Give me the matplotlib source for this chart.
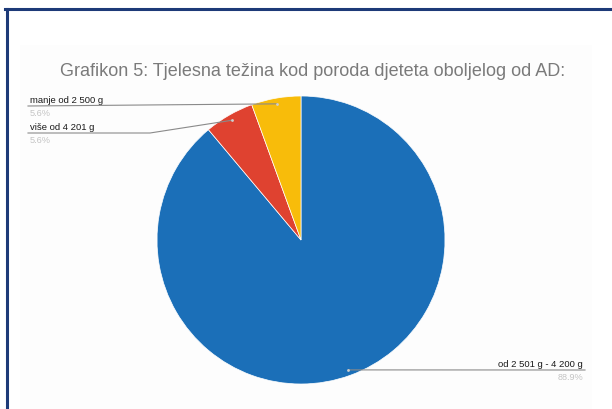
import numpy as np
import matplotlib
matplotlib.use("Agg")
import matplotlib.pyplot as plt
from matplotlib.lines import Line2D
from matplotlib.patches import Rectangle

plt.rcParams['font.family'] = ['Liberation Sans', 'DejaVu Sans']

title = "Grafikon 5: Tjelesna težina kod poroda djeteta oboljelog od AD:"
categories = ["od 2 501 g - 4 200 g", "više od 4 201 g", "manje od 2 500 g"]
counts = [16, 1, 1]
percent_labels = ["88.9%", "5.6%", "5.6%"]
colors = ["#1b6fb8", "#df4230", "#f8bc0a"]

W, H = 612, 410
fig = plt.figure(figsize=(W / 100, H / 100), dpi=100)
fig.patch.set_facecolor("white")

def fx(px):
    return px / W

def fy(py):
    return 1 - py / H

# faint chart panel and the dark frame lines
fig.add_artist(Rectangle((fx(20), 0), fx(572), (H - 46) / H,
                         transform=fig.transFigure, facecolor="#fdfdfd",
                         edgecolor="none", zorder=0))
fig.add_artist(Line2D([fx(5), 1], [fy(10), fy(10)], transform=fig.transFigure,
                      color="#1d3a78", lw=2.2, zorder=5))
fig.add_artist(Line2D([fx(7), fx(7)], [fy(10), 0], transform=fig.transFigure,
                      color="#1d3a78", lw=2.2, zorder=5))

fig.text(fx(60), fy(72), title, ha="left", va="center", fontsize=13.0,
         color="#7a7a7a")

# pie: centre (301, 241) px, radius 144 px
cx, cy, r = 301, 241, 144
ax = fig.add_axes([fx(cx - r), fy(cy + r), 2 * r / W, 2 * r / H])
ax.axis("off")
wedges, _ = ax.pie(counts, colors=colors, startangle=90, counterclock=False,
                   radius=1, center=(0, 0), frame=False,
                   wedgeprops=dict(linewidth=0.5, edgecolor="white"))
ax.set_xlim(-1, 1)
ax.set_ylim(-1, 1)

def anchor_px(w, rr=0.96):
    ang = np.deg2rad((w.theta1 + w.theta2) / 2)
    pt = ax.transData.transform((rr * np.cos(ang), rr * np.sin(ang)))
    return pt[0], H - pt[1]

fig.canvas.draw()

# leader lines and labels
layout = {
    0: dict(x0=585, ly=371, ha="right"),
    1: dict(x0=28, ly=134, ha="left", elbow=150),
    2: dict(x0=28, ly=107, ha="left"),
}
for i, w in enumerate(wedges):
    axp, ayp = anchor_px(w)
    L = layout[i]
    if "elbow" in L:
        xs = [axp, L["elbow"], L["x0"]]
        ys = [ayp, L["ly"], L["ly"]]
    else:
        xs = [axp, L["x0"]]
        ys = [ayp, L["ly"]]
    fig.add_artist(Line2D([fx(v) for v in xs], [fy(v) for v in ys],
                          transform=fig.transFigure, color="#8a8a8a", lw=0.8,
                          zorder=4))
    fig.add_artist(Line2D([fx(axp)], [fy(ayp)], transform=fig.transFigure,
                          marker="o", ms=2, color="#cfcfcf", mec="none",
                          zorder=4))
    tx = L["x0"] + (2 if L["ha"] == "left" else -2)
    fig.text(fx(tx), fy(L["ly"] - 2), categories[i], ha=L["ha"], va="bottom",
             fontsize=6.8, color="#1a1a1a", fontweight="medium")
    fig.text(fx(tx), fy(L["ly"] + 2), percent_labels[i], ha=L["ha"], va="top",
             fontsize=6.6, color="#c4c4c4")

fig.savefig("out.png", dpi=100)
